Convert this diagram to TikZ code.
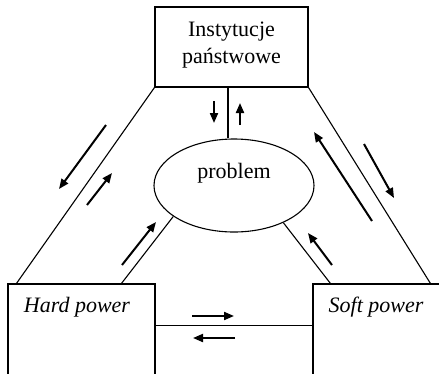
\documentclass[tikz,border=0pt]{standalone}
\usepackage{fontspec}
\setmainfont{Liberation Serif}
\usetikzlibrary{shapes.geometric,arrows.meta,calc}
\begin{document}
\begin{tikzpicture}[x=1pt,y=-1pt,
  conn/.style={line width=1.1pt},
  boxnode/.style={draw,line width=1.1pt,rectangle,inner sep=0pt},
  txt/.style={font=\fontsize{22}{27}\selectfont,inner sep=0pt,align=center},
  flow/.style={line width=2pt,-{Triangle[length=10pt,width=8pt]}}]
\useasboundingbox (0,0) rectangle (439,373);
\clip (0,0) rectangle (439,373);
\node[boxnode,minimum width=153pt,minimum height=80pt] (top) at (231.5,47) {};
\node[txt] (toplbl) at (231.5,45) {Instytucje\\państwowe};
\node[draw,line width=1.1pt,ellipse,inner sep=0pt,minimum width=160pt,minimum height=93pt] (prob) at (234,185.5) {};
\node[txt] (problbl) at (234,173.5) {problem};
\node[boxnode,minimum width=147pt,minimum height=116pt] (hard) at (81.5,342) {};
\node[txt,anchor=base] (hardlbl) at (77,312) {\itshape Hard power};
\node[boxnode,minimum width=147pt,minimum height=116pt] (soft) at (386.5,342) {};
\node[txt,anchor=base] (softlbl) at (376,312) {\itshape Soft power};
% connectors
\draw[conn] ($(top.south)+(-3.5,0)$) coordinate (v1) -- (v1 |- prob.north);
\draw[conn] (top.south west) -- ($(hard.north west)+(9,0)$);
\draw[conn] (top.south east) -- ($(soft.north west)+(118,0)$);
\draw[conn] ($(hard.north west)+(114,0)$) -- (prob.207);
\draw[conn] (prob.323) -- ($(soft.north west)+(18,0)$);
\draw[conn] ($(hard.north east)+(0,42)$) coordinate (h1) -- (h1 -| soft.west);
% arrows
\draw[flow] (214,101) -- (214,123);
\draw[flow] (240,125) -- (240,103);
\draw[flow] (106,125) -- (59,189);
\draw[flow] (87,205) -- (112,173);
\draw[flow] (122,265) -- (156,222);
\draw[flow] (372,221) -- (314,132);
\draw[flow] (364,144) -- (394,198);
\draw[flow] (332,265) -- (308,233);
\draw[flow] (192,316) -- (234,316);
\draw[flow] (235,338) -- (193,338);
\end{tikzpicture}
\end{document}
